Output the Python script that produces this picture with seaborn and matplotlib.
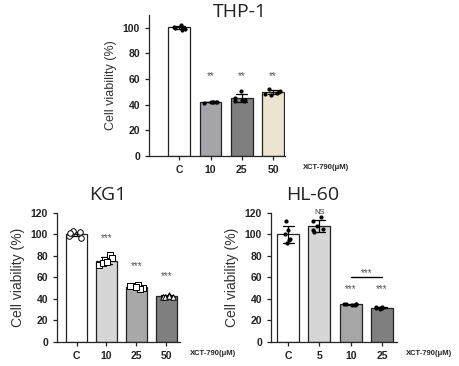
import numpy as np
import pandas as pd
import matplotlib
matplotlib.use("Agg")
import matplotlib.pyplot as plt
import seaborn as sns

# THP-1
thp_groups = ["C", "10", "25", "50"]
thp_values = [
    [101.0, 99.0, 102.5, 98.5, 100.0, 100.5],
    [42.0, 41.6, 42.1, 42.4, 41.8, 42.2],
    [44.0, 43.0, 45.0, 51.0, 42.5, 44.0],
    [49.0, 52.0, 50.0, 47.5, 51.0, 48.5],
]
thp_colors = ["#ffffff", "#a4a4aa", "#7f7f7f", "#efe7cc"]
thp_stars = ["", "**", "**", "**"]

# KG1
kg1_groups = ["C", "10", "25", "50"]
kg1_values = [
    [100.0, 97.0, 102.0, 103.5, 99.0, 101.0],
    [72.0, 76.0, 81.0, 78.0, 73.0, 74.0],
    [52.0, 50.0, 53.0, 49.0, 51.0, 52.0],
    [43.0, 42.0, 44.0, 42.0, 43.0, 41.5],
]
kg1_colors = ["#ffffff", "#d6d6d6", "#a8a8a8", "#7f7f7f"]
kg1_stars = ["", "***", "***", "***"]

# HL-60
hl_groups = ["C", "5", "10", "25"]
hl_values = [
    [113.0, 104.0, 100.0, 96.0, 92.0, 95.0],
    [116.0, 113.0, 108.0, 104.0, 102.0, 105.0],
    [35.0, 34.5, 35.5, 34.0, 35.0, 35.2],
    [31.5, 32.0, 31.0, 32.0, 31.8, 31.2],
]
hl_colors = ["#ffffff", "#d6d6d6", "#a6a6a6", "#7f7f7f"]
hl_stars = ["", "NS", "***", "***"]

sns.set_style("ticks")
plt.rcParams["font.family"] = ["Liberation Sans", "DejaVu Sans"]


def to_frame(groups, values):
    rows = []
    for g, vals in zip(groups, values):
        for v in vals:
            rows.append({"group": g, "value": v})
    return pd.DataFrame(rows)


def draw_panel(ax, groups, values, colors, stars, ymax, xlim, markers,
               star_gap, hollow=False, ylab_size=10, same_level=False):
    df = to_frame(groups, values)
    sns.barplot(data=df, x="group", y="value", hue="group", order=groups,
                hue_order=groups, palette=colors, errorbar="sd",
                capsize=0.35, err_kws={"linewidth": 0.9, "color": "black"},
                edgecolor="#222222", linewidth=0.9, width=0.7,
                legend=False, ax=ax)
    for i, g in enumerate(groups):
        sub = df[df["group"] == g]
        if hollow:
            sns.stripplot(data=sub, x="group", y="value", order=groups,
                          marker=markers[i], size=4, jitter=0.25,
                          color="white", edgecolor="black", linewidth=0.7,
                          ax=ax, zorder=4)
        else:
            sns.stripplot(data=sub, x="group", y="value", order=groups,
                          marker=markers[i], size=3, jitter=0.25,
                          color="black", ax=ax, zorder=4)
    # heights of significance marks
    tops = [np.mean(v) + np.std(v, ddof=1) for v in values]
    star_tops = [tops[i] for i, s in enumerate(stars) if s and s != "NS"]
    for i, s in enumerate(stars):
        if not s:
            continue
        if s == "NS":
            ax.text(i, tops[i] + 4, s, ha="center", va="bottom",
                    fontsize=5.5, color="#333333")
        else:
            base = max(star_tops) if same_level else tops[i]
            ax.text(i, base + star_gap, s, ha="center", va="center",
                    fontsize=7, color="#555555")
    ax.set_ylim(0, ymax)
    ax.set_yticks(np.arange(0, min(ymax, 120) + 1, 20))
    ax.set_xlim(*xlim)
    ax.set_xlabel("")
    ax.set_ylabel("Cell viability (%)", fontsize=ylab_size, color="#333333")
    ax.tick_params(axis="both", labelsize=7.5, width=0.9, length=3,
                   colors="#222222")
    for lab in ax.get_xticklabels() + ax.get_yticklabels():
        lab.set_fontweight("bold")
    for sp in ["left", "bottom"]:
        ax.spines[sp].set_linewidth(0.9)
    sns.despine(ax=ax)


fig = plt.figure(figsize=(4.6, 3.66), dpi=100)

ax1 = fig.add_axes([0.324, 0.574, 0.296, 0.385])
draw_panel(ax1, thp_groups, thp_values, thp_colors, thp_stars,
           110, (-0.97, 3.39), ["o"] * 4, 11, ylab_size=9, same_level=True)
ax1.set_yticks(np.arange(0, 101, 20))
ax1.text(1.13, -0.06, "XCT-790(μM)", transform=ax1.transAxes, fontsize=5.5,
         fontweight="bold", va="top", ha="left")

ax2 = fig.add_axes([0.124, 0.066, 0.267, 0.352])
draw_panel(ax2, kg1_groups, kg1_values, kg1_colors, kg1_stars,
           120, (-0.65, 3.45), ["o", "s", "s", "^"], 18, hollow=True)
ax2.text(1.08, -0.06, "XCT-790(μM)", transform=ax2.transAxes, fontsize=5.5,
         fontweight="bold", va="top", ha="left")

ax3 = fig.add_axes([0.589, 0.066, 0.274, 0.352])
draw_panel(ax3, hl_groups, hl_values, hl_colors, hl_stars,
           120, (-0.55, 3.48), ["o"] * 4, 14, same_level=True)
ax3.plot([2, 3], [60, 60], color="black", linewidth=1)
ax3.text(2.5, 64, "***", ha="center", va="center", fontsize=7,
         color="#555555")
ax3.text(1.07, -0.06, "XCT-790(μM)", transform=ax3.transAxes, fontsize=5.5,
         fontweight="bold", va="top", ha="left")

title_kw = dict(fontsize=14, family="Open Sans", color="#222222",
                ha="center", va="center")
fig.text(240 / 460, 1 - 12 / 366, "THP-1", **title_kw)
fig.text(108 / 460, 1 - 195 / 366, "KG1", **title_kw)
fig.text(313 / 460, 1 - 195 / 366, "HL-60", **title_kw)

fig.savefig("out.png", dpi=100)
